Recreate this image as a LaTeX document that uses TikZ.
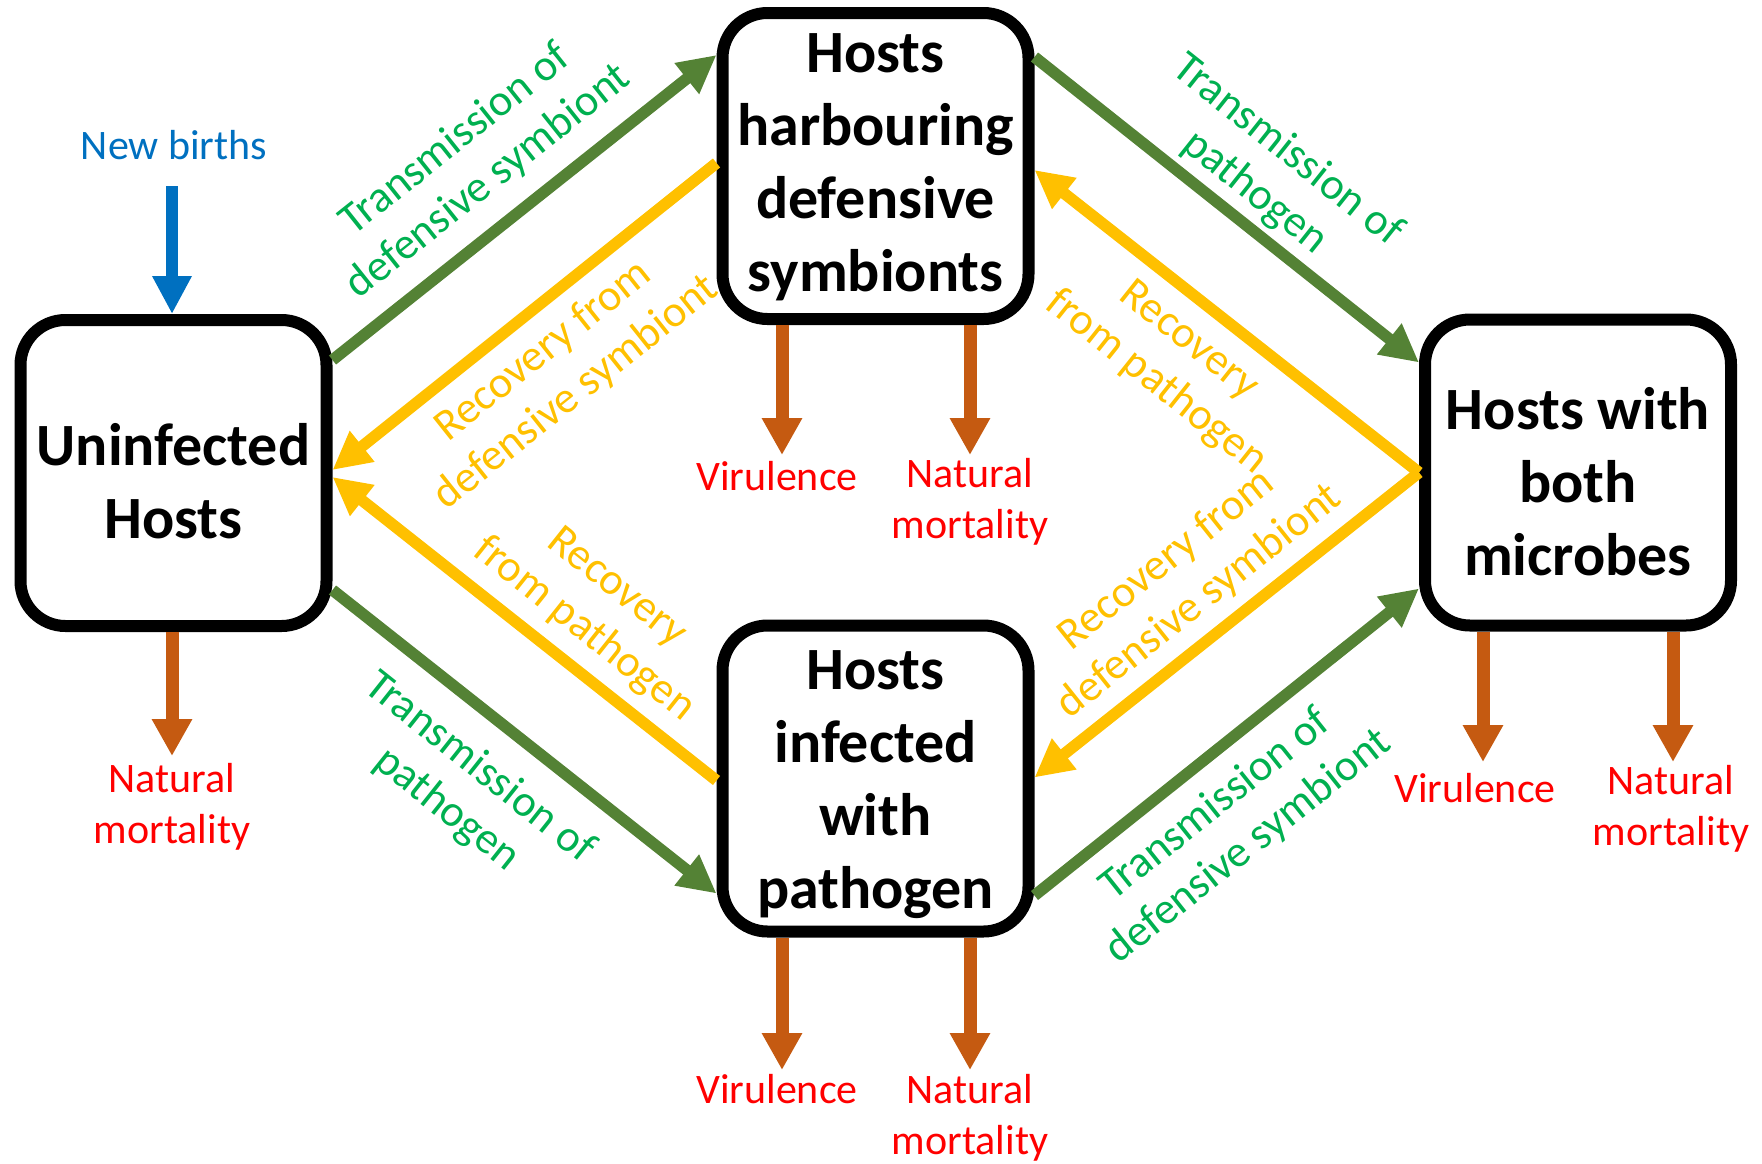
\documentclass[tikz,border=0pt]{standalone}
\usepackage{fontspec}
\setmainfont{Carlito}
\usetikzlibrary{arrows.meta,calc}
\definecolor{lgreen}{HTML}{548235}
\definecolor{tgreen}{HTML}{00B050}
\definecolor{lorange}{HTML}{FFC000}
\definecolor{lbrown}{HTML}{C55A11}
\definecolor{tred}{HTML}{FF0000}
\definecolor{lblue}{HTML}{0070C0}
\begin{document}
\begin{tikzpicture}[x=1pt,y=-1pt,
 box/.style={draw=black, fill=white, line width=12pt, rounded corners=45pt,
   minimum width=306pt, minimum height=306pt, inner sep=0pt},
 boxtext/.style={inner sep=0pt, align=center,
   font=\fontsize{60}{73}\selectfont\bfseries},
 lbl/.style={align=center, inner sep=0pt, font=\fontsize{42}{51}\selectfont},
 slbl/.style={align=center, inner sep=0pt, font=\fontsize{44.5}{53}\selectfont},
 trans/.style={slbl, text=tgreen},
 recov/.style={slbl, text=lorange},
 redtxt/.style={lbl, text=tred},
 gflow/.style={draw=lgreen, line width=11.5pt, -{Triangle[length=38pt,width=37pt]}},
 oflow/.style={draw=lorange, line width=11.5pt, -{Triangle[length=38pt,width=37pt]}},
 loss/.style={draw=lbrown, line width=13pt, -{Triangle[length=37pt,width=38pt]}},
 birth/.style={draw=lblue, line width=12pt, -{Triangle[length=38pt,width=37pt]}},
]
\useasboundingbox (0,0) rectangle (1762,1163);

% boxes
\node[box] (U) at (173.5,473) {};
\node[box] (T) at (875.5,166) {};
\node[box] (R) at (1578,472.5) {};
\node[box] (B) at (875.5,778.5) {};
\node[boxtext] (Ut) at ($(U)+(0,8)$) {Uninfected\\Hosts};
\node[boxtext] (Tt) at ($(T)+(0,1)$) {Hosts\\harbouring\\defensive\\symbionts};
\node[boxtext] (Rt) at ($(R)+(0,9)$) {Hosts with\\both\\microbes};
\node[boxtext] (Bt) at ($(B)+(0,6)$) {Hosts\\infected\\with\\pathogen};

% transitions
\draw[gflow] ($(U.east)+(0,-113)$) -- ($(T.west)+(0,-111)$);
\draw[oflow] ($(T.west)+(0,-3)$) -- ($(U.east)+(0,-3)$);
\draw[oflow] ($(B.west)+(0,2)$) -- ($(U.east)+(0,4)$);
\draw[gflow] ($(U.east)+(0,117)$) -- ($(B.west)+(0,115)$);
\draw[gflow] ($(T.east)+(0,-109)$) -- ($(R.west)+(0,-110)$);
\draw[oflow] (R.west) -- ($(T.east)+(0,4)$);
\draw[oflow] (R.west) -- ($(B.east)+(0,-1)$);
\draw[gflow] ($(B.east)+(0,117)$) -- ($(R.west)+(0,116)$);

% transition labels
\node[trans, rotate=38.5] (l1) at (472,161) {Transmission of\\defensive symbiont};
\node[recov, rotate=38.5] (l2) at (560,372) {Recovery from\\defensive symbiont};
\node[recov, rotate=-38.5] (l3) at (600,609) {Recovery\\from pathogen};
\node[trans, rotate=-38.5] (l4) at (463,789) {Transmission of\\pathogen};
\node[trans, rotate=-38.5] (l5) at (1271,172) {Transmission of\\pathogen};
\node[recov, rotate=-38.5] (l6) at (1172,362) {Recovery\\from pathogen};
\node[recov, rotate=38.5] (l7) at (1183,581) {Recovery from\\defensive symbiont};
\node[trans, rotate=38.5] (l8) at (1232,826) {Transmission of\\defensive symbiont};

% births
\node[lbl, text=lblue, anchor=base] (nb) at (174,159) {New births};
\coordinate (nbs) at (172,186);
\draw[birth] (nbs) -- (nbs |- U.north);

% losses
\coordinate (uend) at (172,756);
\draw[loss] (uend |- U.south) -- (uend);
\node[redtxt] (um) at (172,807) {Natural\\mortality};

\coordinate (tv) at (782,455);
\coordinate (tn) at (970,455);
\draw[loss] (tv |- T.south) -- (tv);
\draw[loss] (tn |- T.south) -- (tn);
\node[redtxt, anchor=base] (tvl) at (777,490) {Virulence};
\node[redtxt] (tnl) at (970,502) {Natural\\mortality};

\coordinate (rv) at (1483,762);
\coordinate (rn) at (1673,762);
\draw[loss] (rv |- R.south) -- (rv);
\draw[loss] (rn |- R.south) -- (rn);
\node[redtxt, anchor=base] (rvl) at (1475,802) {Virulence};
\node[redtxt] (rnl) at (1671,809) {Natural\\mortality};

\coordinate (bv) at (782,1070);
\coordinate (bn) at (970,1070);
\draw[loss] (bv |- B.south) -- (bv);
\draw[loss] (bn |- B.south) -- (bn);
\node[redtxt, anchor=base] (bvl) at (777,1103) {Virulence};
\node[redtxt] (bnl) at (970,1117.5) {Natural\\mortality};
\end{tikzpicture}
\end{document}
